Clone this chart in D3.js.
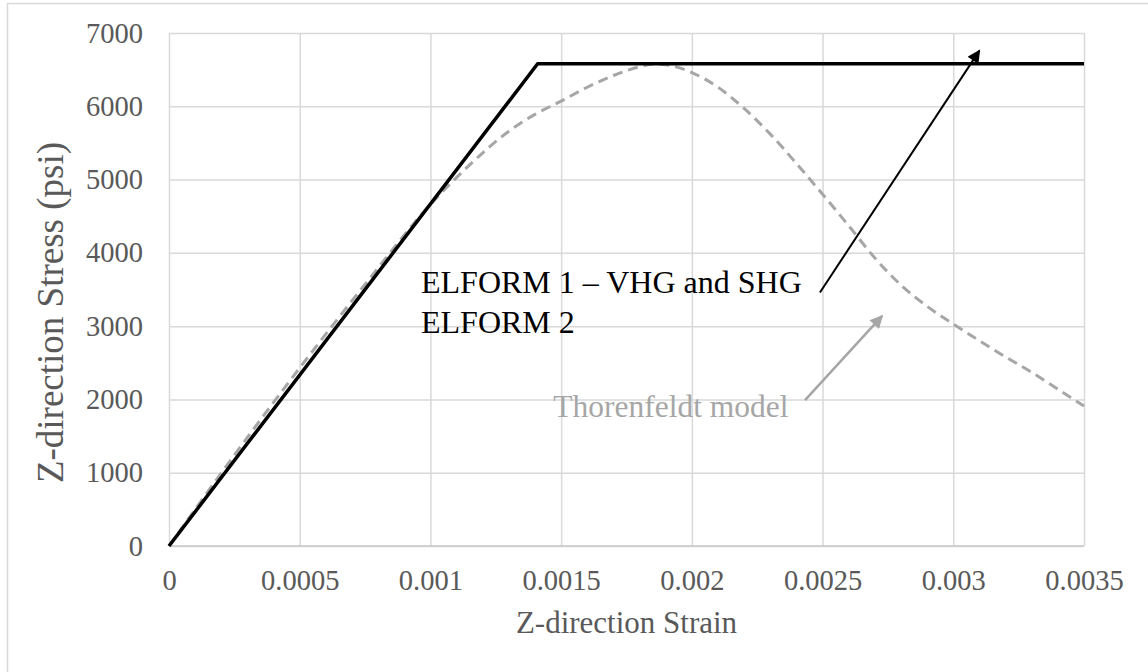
<!DOCTYPE html>
<html>
<head>
<meta charset="utf-8">
<script src="https://cdn.jsdelivr.net/npm/d3@7"></script>
<style>
  body { margin: 0; background: #fff; }
  text { font-family: "Liberation Serif", "Times New Roman", serif; }
</style>
</head>
<body>
<div id="chart"></div>
<script>
// svg container
var svgWidth = 1148;
var svgHeight = 672;

var margin = { top: 33, right: 64, bottom: 126, left: 169 };

var width = svgWidth - margin.left - margin.right;
var height = svgHeight - margin.top - margin.bottom;

// ELFORM 1 / ELFORM 2 response (elastic-perfectly plastic)
var elformStrain = [0, 0.00141, 0.0035];
var elformStress = [0, 6580, 6580];

// Thorenfeldt model
var thorStrain = [0, 0.00025, 0.0005, 0.00075, 0.001, 0.00115, 0.0013, 0.0014, 0.0015, 0.0016,
    0.0017, 0.0018, 0.00185, 0.0019, 0.002, 0.0021, 0.0022, 0.0023, 0.0024, 0.0025,
    0.0026, 0.0027, 0.0028, 0.0029, 0.003, 0.0031, 0.0032, 0.0033, 0.0034, 0.0035];
var thorStress = [0, 1240, 2430, 3570, 4660, 5200, 5660, 5890, 6070, 6260,
    6420, 6540, 6575, 6565, 6460, 6260, 5970, 5620, 5220, 4800,
    4370, 3930, 3560, 3270, 3030, 2800, 2580, 2370, 2140, 1910];

// axis ticks
var xTicks = [0, 0.0005, 0.001, 0.0015, 0.002, 0.0025, 0.003, 0.0035];
var xTickLabels = ["0", "0.0005", "0.001", "0.0015", "0.002", "0.0025", "0.003", "0.0035"];
var yTicks = [0, 1000, 2000, 3000, 4000, 5000, 6000, 7000];

// annotations in data units
var noteLines = ["ELFORM 1 \u2013 VHG and SHG", "ELFORM 2"];
var noteAt = [0.000964, 3450];
var thorNote = "Thorenfeldt model";
var thorNoteAt = [0.00147, 1760];
var blackArrow = [[0.00249, 3460], [0.00310, 6760]];
var greyArrow = [[0.002433, 1990], [0.002728, 3140]];

var svg = d3.select("#chart")
    .append("svg")
    .attr("width", svgWidth)
    .attr("height", svgHeight);

// outer frame (left and top edges visible)
svg.append("path")
    .attr("d", "M7.5,672 V3.5 H1148")
    .attr("fill", "none")
    .attr("stroke", "#d9d9d9")
    .attr("stroke-width", 1.5);

var defs = svg.append("defs");
function marker(id, color) {
    defs.append("marker")
        .attr("id", id)
        .attr("viewBox", "0 0 10 10")
        .attr("refX", 9)
        .attr("refY", 5)
        .attr("markerUnits", "userSpaceOnUse")
        .attr("markerWidth", 17)
        .attr("markerHeight", 13)
        .attr("orient", "auto")
        .append("path")
        .attr("d", "M0,0 L10,5 L0,10 z")
        .attr("fill", color);
}
marker("headBlack", "#000");
marker("headGrey", "#a6a6a6");

var chartGroup = svg.append("g")
    .attr("transform", `translate(${margin.left}, ${margin.top})`);

var xScale = d3.scaleLinear().domain([0, 0.0035]).range([0, width]);
var yScale = d3.scaleLinear().domain([0, 7000]).range([height, 0]);

// gridlines
chartGroup.append("g")
    .call(d3.axisLeft(yScale).tickValues(yTicks).tickSize(-width).tickFormat(""))
    .call(g => g.select(".domain").remove())
    .call(g => g.selectAll("line").attr("stroke", "#d9d9d9").attr("stroke-width", 1.5));

chartGroup.append("g")
    .call(d3.axisBottom(xScale).tickValues(xTicks).tickSize(height).tickFormat(""))
    .call(g => g.select(".domain").remove())
    .call(g => g.selectAll("line").attr("stroke", "#d9d9d9").attr("stroke-width", 1.5));

// bottom axis line
chartGroup.append("line")
    .attr("x1", 0).attr("x2", width)
    .attr("y1", height).attr("y2", height)
    .attr("stroke", "#c8c8c8")
    .attr("stroke-width", 1.5);

// tick labels
var bottomAxis = d3.axisBottom(xScale)
    .tickValues(xTicks)
    .tickSize(0)
    .tickPadding(0)
    .tickFormat((d, i) => xTickLabels[i]);
chartGroup.append("g")
    .attr("transform", `translate(0, ${height})`)
    .call(bottomAxis)
    .call(g => g.select(".domain").remove())
    .call(g => g.selectAll("text")
        .attr("dy", null)
        .attr("y", 44)
        .attr("fill", "#595959")
        .style("font-size", "28.5px")
        .style("font-family", "Liberation Serif"));

var leftAxis = d3.axisLeft(yScale)
    .tickValues(yTicks)
    .tickSize(0)
    .tickPadding(26)
    .tickFormat(d3.format("d"));
chartGroup.append("g")
    .call(leftAxis)
    .call(g => g.select(".domain").remove())
    .call(g => g.selectAll("text")
        .attr("fill", "#595959")
        .style("font-size", "28.5px")
        .style("font-family", "Liberation Serif"));

// axis titles
chartGroup.append("text")
    .attr("x", width / 2)
    .attr("y", height + 87)
    .attr("text-anchor", "middle")
    .attr("fill", "#595959")
    .style("font-size", "31px")
    .text("Z-direction Strain");

chartGroup.append("text")
    .attr("transform", "rotate(-90)")
    .attr("x", -(height / 2) - 23)
    .attr("y", 63 - margin.left)
    .attr("text-anchor", "middle")
    .attr("fill", "#595959")
    .style("font-size", "37px")
    .text("Z-direction Stress (psi)");

// series
var line = d3.line()
    .x(d => xScale(d[0]))
    .y(d => yScale(d[1]));

chartGroup.append("path")
    .datum(d3.zip(thorStrain, thorStress))
    .attr("d", line.curve(d3.curveMonotoneX))
    .attr("fill", "none")
    .attr("stroke", "#a6a6a6")
    .attr("stroke-width", 3)
    .attr("stroke-dasharray", "10,6");

chartGroup.append("path")
    .datum(d3.zip(elformStrain, elformStress))
    .attr("d", d3.line().x(d => xScale(d[0])).y(d => yScale(d[1])))
    .attr("fill", "none")
    .attr("stroke", "#000")
    .attr("stroke-width", 3.5)
    .attr("stroke-linejoin", "round");

// annotations
var note = chartGroup.append("text")
    .attr("x", xScale(noteAt[0]))
    .attr("y", yScale(noteAt[1]))
    .attr("fill", "#000")
    .style("font-size", "32px");
note.selectAll("tspan")
    .data(noteLines)
    .enter()
    .append("tspan")
    .attr("x", xScale(noteAt[0]))
    .attr("dy", (d, i) => i === 0 ? 0 : 40)
    .text(d => d);

chartGroup.append("text")
    .attr("x", xScale(thorNoteAt[0]))
    .attr("y", yScale(thorNoteAt[1]))
    .attr("fill", "#a6a6a6")
    .style("font-size", "31.5px")
    .text(thorNote);

chartGroup.append("line")
    .attr("x1", xScale(blackArrow[0][0])).attr("y1", yScale(blackArrow[0][1]))
    .attr("x2", xScale(blackArrow[1][0])).attr("y2", yScale(blackArrow[1][1]))
    .attr("stroke", "#000")
    .attr("stroke-width", 2)
    .attr("marker-end", "url(#headBlack)");

chartGroup.append("line")
    .attr("x1", xScale(greyArrow[0][0])).attr("y1", yScale(greyArrow[0][1]))
    .attr("x2", xScale(greyArrow[1][0])).attr("y2", yScale(greyArrow[1][1]))
    .attr("stroke", "#a6a6a6")
    .attr("stroke-width", 2.5)
    .attr("marker-end", "url(#headGrey)");
</script>
</body>
</html>
